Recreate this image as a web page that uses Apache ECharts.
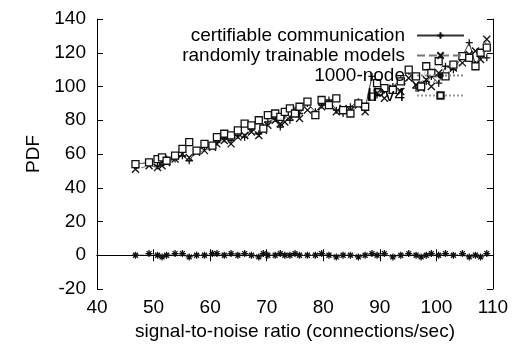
<!DOCTYPE html>
<html>
<head>
<meta charset="utf-8">
<script src="https://cdn.jsdelivr.net/npm/echarts@6/dist/echarts.min.js"></script>
<style>
  html, body { margin: 0; padding: 0; background: #fff; }
  #chart { width: 512px; height: 345px; }
</style>
</head>
<body>
<div id="chart"></div>
<script>
// x values shared by all four series
const snr = [46.8, 49.2, 50.7, 51.5, 52.3, 53.8, 55.1, 56.3, 57.6, 59.0, 60.4, 61.2, 62.5, 63.7, 64.9, 66.1, 67.3, 68.6, 69.4, 70.2,
  71.5, 72.4, 73.2, 74.1, 75.0, 75.8, 77.2, 78.6, 79.7, 81.0, 82.3, 83.5, 84.8, 86.2, 87.4, 88.6, 89.5, 90.8, 92.3, 93.7,
  95.1, 96.4, 97.3, 98.2, 99.1, 100.4, 101.6, 103.0, 104.6, 105.8, 106.9, 107.8, 108.9];

const certifiable = [54, 55, 53, 55, 57, 57, 59, 56, 62, 64, 65, 67, 69, 68, 71, 70, 75, 72, 76, 79,
  81, 76, 83, 80, 86, 84, 90, 85, 89, 92, 86, 84, 88, 91, 87, 106, 95, 98, 100, 104,
  109, 99, 101, 103, 106, 102, 112, 110, 118, 126, 113, 118, 117];

const trainable = [51, 53, 52, 53, 55, 57, 60, 58, 61, 62, 64, 66, 68, 66, 70, 71, 73, 71, 74, 77,
  80, 78, 79, 82, 84, 81, 86, 83, 88, 90, 85, 87, 86, 89, 85, 94, 96, 93, 99, 97,
  105, 101, 99, 104, 100, 108, 106, 111, 114, 119, 121, 116, 128];

const node1000 = [0, 1, 0, -1, 0, 1, 1, -1, 0, 0, 1, 1, 0, 1, 0, 1, 0, -1, 1, 0,
  0, 1, 0, 0, 1, 0, 0, 0, 1, 0, -1, 0, 0, -1, 0, 1, 0, 1, -1, 0,
  1, 0, -1, 0, 1, 0, 1, 0, 1, -1, 0, -1, 1];

const ipv4 = [54, 55, 57, 58, 56, 59, 63, 67, 62, 66, 65, 70, 72, 71, 74, 78, 77, 80, 75, 83,
  84, 82, 85, 87, 84, 88, 91, 83, 92, 89, 93, 86, 84, 90, 88, 94, 102, 99, 98, 103,
  110, 106, 100, 112, 108, 115, 106, 113, 118, 117, 112, 120, 123];

const seriesNames = ['certifiable communication', 'randomly trainable models', '1000-node', 'IPv4'];

const PLUS = 'path://M0,5L10,5M5,0L5,10';
const CROSS = 'path://M0,0L10,10M10,0L0,10';
const STAR = 'path://M0,5L10,5M5,0L5,10M1.5,1.5L8.5,8.5M8.5,1.5L1.5,8.5';

const pairs = ys => snr.map((x, i) => [x, ys[i]]);

const font = 'Liberation Sans, Arial, sans-serif';

function mk(name, ys, symbol, lineColor, lineType, empty) {
  return {
    name: name,
    type: 'line',
    z: 2,
    data: pairs(ys),
    symbol: symbol,
    symbolSize: 7,
    showAllSymbol: true,
    lineStyle: { color: lineColor, width: 1, type: lineType },
    itemStyle: empty
      ? { color: '#fff', borderColor: '#111', borderWidth: 1.3 }
      : { color: '#111', borderColor: '#111', borderWidth: 1.3 },
    emphasis: { disabled: true },
    animation: false
  };
}

const chart = echarts.init(document.getElementById('chart'));
chart.setOption({
  animation: false,
  grid: { left: 97, right: 19, top: 19, bottom: 56, outerBoundsMode: 'none', containLabel: false },
  legend: {
    z: 50,
    orient: 'vertical',
    right: 42,
    top: 21,
    align: 'right',
    itemWidth: 47,
    itemHeight: 8,
    itemGap: 1,
    textStyle: { fontFamily: font, fontSize: 19, lineHeight: 17, color: '#000', padding: [0, 7, 0, 0] },
    data: seriesNames
  },
  xAxis: [{
    type: 'value', min: 40, max: 110, interval: 10,
    name: 'signal-to-noise ratio (connections/sec)',
    nameLocation: 'middle', nameGap: 33,
    nameTextStyle: { fontFamily: font, fontSize: 19, color: '#000' },
    axisLine: { lineStyle: { color: '#000', width: 1 } },
    axisTick: { inside: true, length: 6, lineStyle: { color: '#000' } },
    axisLabel: { fontFamily: font, fontSize: 19, color: '#000', margin: 9 },
    splitLine: { show: false }
  }, {
    type: 'value', min: 40, max: 110, interval: 10, position: 'top',
    axisLine: { lineStyle: { color: '#000', width: 1 } },
    axisTick: { inside: true, length: 6, lineStyle: { color: '#000' } },
    axisLabel: { show: false },
    splitLine: { show: false }
  }],
  yAxis: [{
    type: 'value', min: -20, max: 140, interval: 20,
    name: 'PDF',
    nameLocation: 'middle', nameGap: 52, nameRotate: 90,
    nameTextStyle: { fontFamily: font, fontSize: 19, color: '#000' },
    axisLine: { show: true, lineStyle: { color: '#000', width: 1 } },
    axisTick: { show: true, inside: true, length: 6, lineStyle: { color: '#000' } },
    axisLabel: { fontFamily: font, fontSize: 19, color: '#000', margin: 11 },
    splitLine: { show: false }
  }, {
    type: 'value', min: -20, max: 140, interval: 20, position: 'right',
    axisLine: { show: true, lineStyle: { color: '#000', width: 1 } },
    axisTick: { show: true, inside: true, length: 6, lineStyle: { color: '#000' } },
    axisLabel: { show: false },
    splitLine: { show: false }
  }],
  series: [
    mk(seriesNames[0], certifiable, PLUS, '#333', 'solid', false),
    mk(seriesNames[1], trainable, CROSS, '#777', 'dashed', false),
    mk(seriesNames[2], node1000, STAR, '#888', 'dotted', false),
    mk(seriesNames[3], ipv4, 'rect', '#999', 'dotted', true)
  ]
});
</script>
</body>
</html>
